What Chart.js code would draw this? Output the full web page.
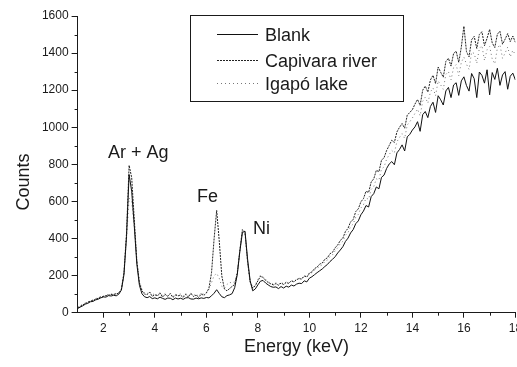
<!DOCTYPE html>
<html>
<head>
<meta charset="utf-8">
<script src="https://cdn.jsdelivr.net/npm/chart.js@4.4.1/dist/chart.umd.min.js"></script>
<style>
  html, body { margin: 0; padding: 0; background: #fff; overflow: hidden; }
  #wrap { width: 530px; height: 367px; }
</style>
</head>
<body>
<div id="wrap"><canvas id="chart" width="530" height="367"></canvas></div>
<script>
// energy channels, keV
const energy = [
  1.0, 1.1, 1.2, 1.3, 1.4, 1.5, 1.6, 1.7, 1.8, 1.9,
  2.0, 2.1, 2.2, 2.3, 2.4, 2.5, 2.6, 2.7, 2.8, 2.9,
  3.0, 3.1, 3.2, 3.3, 3.4, 3.5, 3.6, 3.7, 3.8, 3.9,
  4.0, 4.1, 4.2, 4.3, 4.4, 4.5, 4.6, 4.7, 4.8, 4.9,
  5.0, 5.1, 5.2, 5.3, 5.4, 5.5, 5.6, 5.7, 5.8, 5.9,
  6.0, 6.1, 6.2, 6.3, 6.4, 6.5, 6.6, 6.7, 6.8, 6.9,
  7.0, 7.1, 7.2, 7.3, 7.4, 7.5, 7.6, 7.7, 7.8, 7.9,
  8.0, 8.1, 8.2, 8.3, 8.4, 8.5, 8.6, 8.7, 8.8, 8.9,
  9.0, 9.1, 9.2, 9.3, 9.4, 9.5, 9.6, 9.7, 9.8, 9.9,
  10.0, 10.1, 10.2, 10.3, 10.4, 10.5, 10.6, 10.7, 10.8, 10.9,
  11.0, 11.1, 11.2, 11.3, 11.4, 11.5, 11.6, 11.7, 11.8, 11.9,
  12.0, 12.1, 12.2, 12.3, 12.4, 12.5, 12.6, 12.7, 12.8, 12.9,
  13.0, 13.1, 13.2, 13.3, 13.4, 13.5, 13.6, 13.7, 13.8, 13.9,
  14.0, 14.1, 14.2, 14.3, 14.4, 14.5, 14.6, 14.7, 14.8, 14.9,
  15.0, 15.1, 15.2, 15.3, 15.4, 15.5, 15.6, 15.7, 15.8, 15.9,
  16.0, 16.1, 16.2, 16.3, 16.4, 16.5, 16.6, 16.7, 16.8, 16.9,
  17.0, 17.1, 17.2, 17.3, 17.4, 17.5, 17.6, 17.7, 17.8, 17.9,
  18.0
];

const blank = [
  22, 30, 37, 46, 51, 59, 61, 69, 73, 80,
  85, 84, 92, 90, 94, 91, 100, 122, 205, 410,
  745, 655, 470, 262, 148, 102, 86, 81, 87, 76,
  80, 75, 84, 77, 72, 79, 78, 70, 79, 74,
  78, 72, 80, 81, 74, 73, 79, 75, 80, 77,
  82, 80, 91, 105, 124, 104, 86, 81, 92, 96,
  103, 135, 205, 330, 432, 440, 290, 172, 118, 128,
  150, 170, 174, 160, 150, 141, 137, 139, 130, 141,
  133, 143, 138, 149, 144, 154, 159, 157, 172, 166,
  186, 194, 205, 216, 226, 236, 249, 260, 276, 288,
  302, 322, 338, 356, 384, 402, 430, 448, 480, 495,
  528, 548, 578, 570, 626, 642, 678, 668, 730, 742,
  778, 802, 815, 798, 862, 880, 905, 872, 948, 962,
  985, 1002, 1030, 978, 1068, 1085, 1052, 1112, 1135, 1080,
  1170, 1148, 1120, 1196, 1215, 1160, 1228, 1240, 1172, 1250,
  1272, 1225, 1195, 1290, 1262, 1160, 1298, 1280, 1238, 1310,
  1175, 1295, 1258, 1318, 1226, 1282, 1300, 1205, 1275, 1292,
  1255
];

const capivara = [
  26, 34, 42, 50, 56, 63, 66, 73, 78, 85,
  87, 92, 95, 98, 99, 101, 106, 126, 215, 430,
  795, 728, 505, 280, 162, 118, 100, 98, 110, 88,
  97, 90, 106, 84, 99, 88, 103, 82, 95, 91,
  94, 83, 99, 85, 104, 87, 95, 82, 101, 93,
  106, 132, 215, 398, 552, 388, 198, 128, 118, 130,
  142, 152, 212, 335, 448, 434, 275, 166, 132, 145,
  172, 196, 190, 174, 163, 156, 150, 157, 148, 160,
  152, 163, 158, 172, 166, 178, 184, 181, 198, 192,
  214, 220, 238, 246, 262, 268, 288, 296, 318, 326,
  350, 365, 390, 402, 438, 455, 490, 502, 545, 560,
  598, 615, 655, 648, 705, 722, 768, 760, 822, 836,
  875, 902, 930, 918, 975, 1000, 1020, 995, 1065, 1080,
  1095, 1125, 1150, 1118, 1200, 1222, 1190, 1255, 1280, 1236,
  1325, 1296, 1270, 1355, 1372, 1330, 1398, 1410, 1350, 1432,
  1545, 1408, 1380, 1472, 1490, 1425, 1500, 1515, 1440, 1480,
  1528, 1455, 1430, 1502, 1518, 1448, 1475, 1505, 1462, 1492,
  1458
];

const igapo = [
  30, 38, 45, 53, 59, 65, 69, 76, 81, 86,
  90, 95, 97, 101, 100, 105, 109, 128, 210, 400,
  618, 600, 460, 282, 168, 125, 108, 103, 114, 96,
  104, 94, 110, 92, 104, 90, 106, 89, 99, 97,
  101, 90, 104, 88, 106, 93, 100, 89, 108, 99,
  110, 126, 162, 200, 212, 186, 142, 132, 152, 164,
  160, 168, 218, 338, 440, 428, 272, 166, 136, 152,
  180, 202, 194, 180, 166, 161, 153, 162, 153, 164,
  155, 166, 160, 174, 168, 180, 186, 184, 200, 194,
  208, 216, 230, 238, 252, 258, 276, 284, 302, 312,
  334, 350, 372, 385, 418, 432, 465, 478, 515, 530,
  565, 582, 618, 612, 665, 680, 722, 715, 775, 786,
  828, 852, 875, 862, 922, 945, 965, 940, 1012, 1030,
  1050, 1075, 1098, 1062, 1140, 1162, 1130, 1190, 1212, 1170,
  1250, 1228, 1205, 1285, 1300, 1255, 1322, 1338, 1278, 1350,
  1378, 1340, 1312, 1405, 1398, 1345, 1425, 1440, 1360, 1418,
  1435, 1368, 1342, 1428, 1445, 1372, 1400, 1432, 1380, 1415,
  1390
];

const seriesNames = ["Blank", "Capivara river", "Igapó lake"];
const peakLabels = ["Ar + Ag", "Fe", "Ni"];
const peakEnergy = [2.18, 5.64, 7.81];
const peakCounts = [832, 599, 427];

const FONT = "'Liberation Sans', Arial, Helvetica, sans-serif";
const INK = "#1a1a1a";

const toPoints = ys => ys.map((y, i) => ({ x: energy[i], y: y }));

// legend box, minor ticks, peak names, y title
const extras = {
  id: "extras",
  afterDraw(chart) {
    const ctx = chart.ctx;
    const xs = chart.scales.x, ys = chart.scales.y;
    const area = chart.chartArea;
    ctx.save();

    // minor ticks
    ctx.strokeStyle = INK;
    ctx.lineWidth = 1;
    ctx.beginPath();
    for (let v = 100; v < 1600; v += 200) {
      const py = Math.round(ys.getPixelForValue(v)) + 0.5;
      ctx.moveTo(area.left - 3, py);
      ctx.lineTo(area.left, py);
    }
    for (let v = 3; v < 18; v += 2) {
      const px = Math.round(xs.getPixelForValue(v)) + 0.5;
      ctx.moveTo(px, area.bottom);
      ctx.lineTo(px, area.bottom + 3);
    }
    ctx.stroke();

    // peak names
    ctx.fillStyle = INK;
    ctx.font = "18px " + FONT;
    ctx.textBaseline = "alphabetic";
    ctx.textAlign = "left";
    peakLabels.forEach((t, i) => {
      ctx.fillText(t, xs.getPixelForValue(peakEnergy[i]), ys.getPixelForValue(peakCounts[i]));
    });

    // y title
    ctx.save();
    ctx.translate(29, 182);
    ctx.rotate(-Math.PI / 2);
    ctx.textAlign = "center";
    ctx.fillText("Counts", 0, 0);
    ctx.restore();

    // legend
    ctx.fillStyle = "#fff";
    ctx.fillRect(191, 15, 212, 86);
    ctx.strokeStyle = INK;
    ctx.lineWidth = 1;
    ctx.strokeRect(190.5, 15.5, 213, 86);
    const rows = [34, 60, 83];
    chart.data.datasets.forEach((ds, i) => {
      ctx.beginPath();
      ctx.strokeStyle = ds.borderColor;
      ctx.lineWidth = 1;
      ctx.setLineDash(ds.borderDash || []);
      ctx.moveTo(217, rows[i] + 0.5);
      ctx.lineTo(258, rows[i] + 0.5);
      ctx.stroke();
      ctx.setLineDash([]);
      ctx.fillStyle = INK;
      ctx.fillText(ds.label, 265, rows[i] + 7);
    });
    ctx.restore();
  }
};

new Chart(document.getElementById("chart"), {
  type: "line",
  data: {
    datasets: [
      {
        label: seriesNames[0],
        data: toPoints(blank),
        borderColor: "#111",
        borderWidth: 1,
        pointRadius: 0,
        tension: 0
      },
      {
        label: seriesNames[1],
        data: toPoints(capivara),
        borderColor: "#222",
        borderWidth: 1,
        borderDash: [2, 1],
        pointRadius: 0,
        tension: 0
      },
      {
        label: seriesNames[2],
        data: toPoints(igapo),
        borderColor: "#777",
        borderWidth: 1,
        borderDash: [1, 3],
        pointRadius: 0,
        tension: 0
      }
    ]
  },
  options: {
    responsive: false,
    animation: false,
    layout: { padding: { top: 16, right: 14.6, bottom: 0, left: 0 } },
    plugins: { legend: { display: false }, tooltip: { enabled: false } },
    scales: {
      x: {
        type: "linear",
        min: 1,
        max: 18,
        afterFit: s => { s.height = 54.3; },
        border: { display: true, color: INK, width: 1 },
        grid: { drawOnChartArea: false, drawTicks: true, tickLength: 5, color: INK },
        ticks: { stepSize: 2, includeBounds: false, padding: 4, color: INK, font: { size: 12, family: FONT }, maxRotation: 0, callback: v => String(v) },
        title: { display: true, text: "Energy (keV)", color: INK, font: { size: 18, family: FONT }, padding: { top: 2, bottom: 9 } }
      },
      y: {
        min: 0,
        max: 1600,
        afterFit: s => { s.width = 77.6; },
        border: { display: true, color: INK, width: 1 },
        grid: { drawOnChartArea: false, drawTicks: true, tickLength: 6, color: INK },
        ticks: { stepSize: 200, padding: 3, color: INK, font: { size: 12, family: FONT }, callback: v => String(v) }
      }
    }
  },
  plugins: [extras]
});
</script>
</body>
</html>
